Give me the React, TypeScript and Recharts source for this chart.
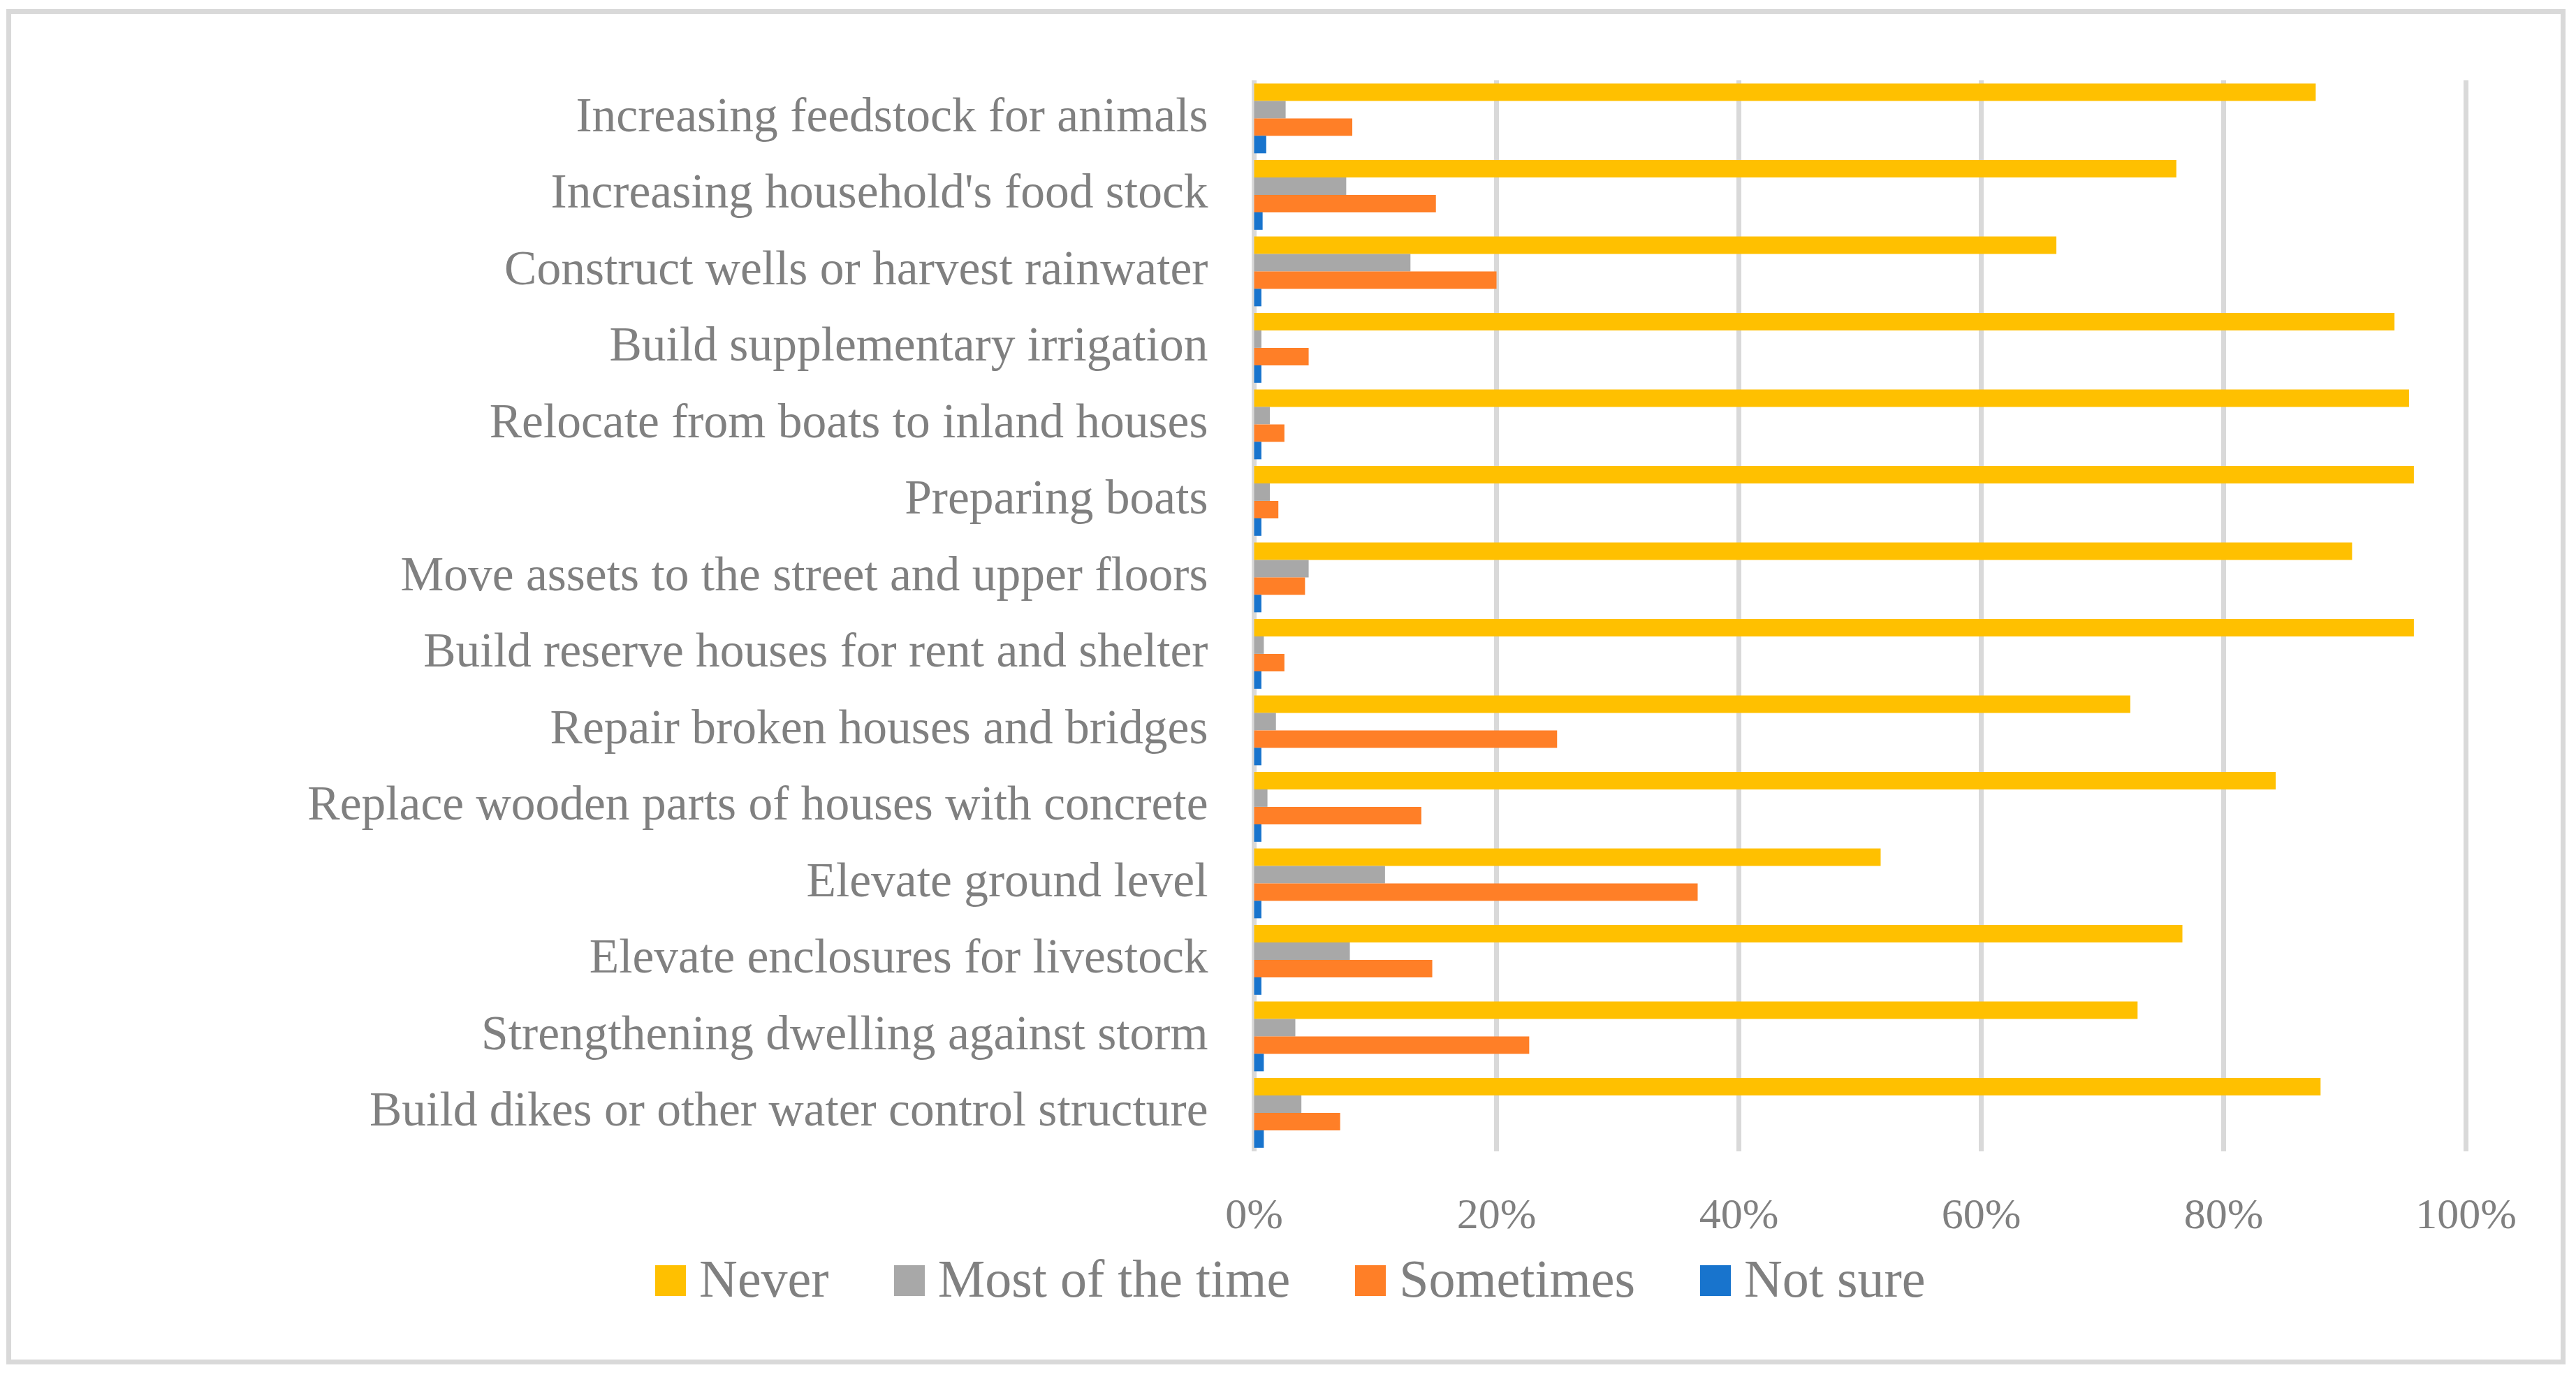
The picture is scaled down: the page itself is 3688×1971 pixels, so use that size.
import { Bar, BarChart, CartesianGrid, Legend, XAxis, YAxis } from "recharts";

const CATEGORIES = [
  "Increasing feedstock for animals",
  "Increasing household's food stock",
  "Construct wells or harvest rainwater",
  "Build supplementary irrigation",
  "Relocate from boats to inland houses",
  "Preparing boats",
  "Move assets to the street and upper floors",
  "Build reserve houses for rent and shelter",
  "Repair broken houses and bridges",
  "Replace wooden parts of houses with concrete",
  "Elevate ground level",
  "Elevate enclosures for livestock",
  "Strengthening dwelling against storm",
  "Build dikes or other water control structure",
];

// percentages, same order as CATEGORIES
const NEVER = [87.6, 76.1, 66.2, 94.1, 95.3, 95.7, 90.6, 95.7, 72.3, 84.3, 51.7, 76.6, 72.9, 88.0];
const MOST_OF_THE_TIME = [2.6, 7.6, 12.9, 0.6, 1.3, 1.3, 4.5, 0.8, 1.8, 1.1, 10.8, 7.9, 3.4, 3.9];
const SOMETIMES = [8.1, 15.0, 20.0, 4.5, 2.5, 2.0, 4.2, 2.5, 25.0, 13.8, 36.6, 14.7, 22.7, 7.1];
const NOT_SURE = [1.0, 0.7, 0.6, 0.6, 0.6, 0.6, 0.6, 0.6, 0.6, 0.6, 0.6, 0.6, 0.8, 0.8];

const X_TICKS = [0, 20, 40, 60, 80, 100];

const SERIES = [
  { key: "never", name: "Never", color: "#FFC000" },
  { key: "most", name: "Most of the time", color: "#A8A8A8" },
  { key: "sometimes", name: "Sometimes", color: "#FF7F27" },
  { key: "notSure", name: "Not sure", color: "#1874CD" },
];

const data = CATEGORIES.map((name, i) => ({
  name,
  never: NEVER[i],
  most: MOST_OF_THE_TIME[i],
  sometimes: SOMETIMES[i],
  notSure: NOT_SURE[i],
}));

const FONT = "'Liberation Serif', 'Times New Roman', serif";
const TEXT = "#808080";
const GRID = "#D9D9D9";

function CategoryTick({ x, y, payload }: any) {
  return (
    <text x={x} y={y} dy={18} textAnchor="end" fill={TEXT} fontSize={69.5} fontFamily={FONT}>
      {payload.value}
    </text>
  );
}

// keep legend in series order (recharts sorts by name otherwise)
const seriesIndex = (name: string) => SERIES.findIndex((s) => s.name === name);

function LegendContent({ payload }: any) {
  const items = [...(payload ?? [])].sort((a: any, b: any) => seriesIndex(a.value) - seriesIndex(b.value));
  return (
    <div style={{ display: "flex", alignItems: "center", height: 80, paddingLeft: 938 }}>
      {items.map((entry: any) => (
        <div key={entry.value} style={{ display: "flex", alignItems: "center", marginRight: 93 }}>
          <span
            style={{
              display: "inline-block",
              width: 44,
              height: 44,
              marginTop: 6,
              marginRight: 19,
              background: entry.color,
            }}
          />
          <span style={{ fontSize: 76, lineHeight: "80px", color: TEXT, fontFamily: FONT, whiteSpace: "nowrap" }}>
            {entry.value}
          </span>
        </div>
      ))}
    </div>
  );
}

export default function App() {
  return (
    <div style={{ position: "absolute", left: 0, top: 0, width: 3688, height: 1971, background: "#fff" }}>
      <div
        style={{
          position: "absolute",
          left: 9,
          top: 13,
          width: 3664,
          height: 1940,
          border: `7px solid ${GRID}`,
          boxSizing: "border-box",
        }}
      />
      <div style={{ position: "absolute", left: 0, top: 0 }}>
        <BarChart
          width={3688}
          height={1971}
          data={data}
          layout="vertical"
          margin={{ top: 115, right: 157.5, left: 0, bottom: 133 }}
          barCategoryGap="4%"
          barGap={0}
        >
          <CartesianGrid horizontal={false} stroke={GRID} strokeWidth={7} />
          <XAxis
            type="number"
            domain={[0, 100]}
            ticks={X_TICKS}
            interval={0}
            tickFormatter={(v: number) => `${v}%`}
            axisLine={false}
            tickLine={false}
            tickSize={0}
            tickMargin={66}
            height={110}
            tick={{ fill: TEXT, fontSize: 62, fontFamily: FONT }}
          />
          <YAxis
            type="category"
            dataKey="name"
            width={1795.5}
            interval={0}
            axisLine={false}
            tickLine={false}
            tickSize={0}
            tickMargin={66}
            tick={<CategoryTick />}
          />
          <Legend
            verticalAlign="bottom"
            content={<LegendContent />}
            wrapperStyle={{ position: "absolute", left: 0, top: 1790, bottom: "auto", width: 3688, height: 80 }}
          />
          {SERIES.map((s) => (
            <Bar key={s.key} dataKey={s.key} name={s.name} fill={s.color} isAnimationActive={false} />
          ))}
        </BarChart>
      </div>
    </div>
  );
}
